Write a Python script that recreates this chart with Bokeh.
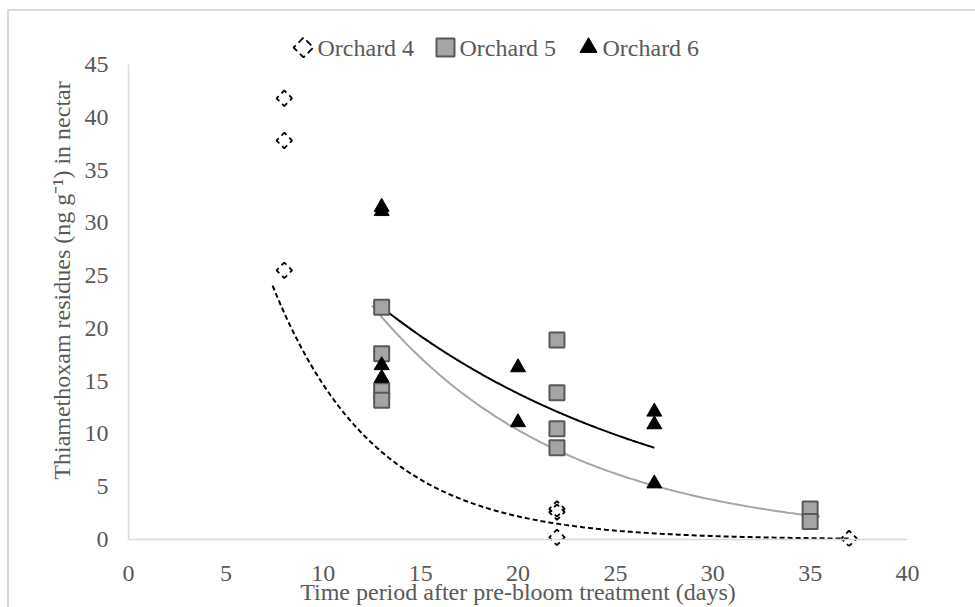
import numpy as np
from bokeh.plotting import figure
from bokeh.layouts import column
from bokeh.models import Range1d, FixedTicker, Span, InlineStyleSheet
from bokeh.core.properties import value
from bokeh.embed import file_html
from bokeh.resources import INLINE

try:
    from bokeh.models import GlobalInlineStyleSheet
except ImportError:
    GlobalInlineStyleSheet = None

# ---------------- data ----------------
o4_x = [8, 8, 8, 22, 22, 22, 37]
o4_y = [41.8, 37.8, 25.5, 2.9, 2.6, 0.2, 0.1]
o5_x = [13, 13, 13, 13, 22, 22, 22, 22, 35, 35]
o5_y = [22.0, 17.6, 14.1, 13.2, 18.9, 13.9, 10.5, 8.7, 2.9, 1.7]
o6_x = [13, 13, 13, 13, 20, 20, 27, 27, 27]
o6_y = [31.5, 31.1, 16.5, 15.3, 16.3, 11.1, 12.1, 10.9, 5.3]

series_names = ["Orchard 4", "Orchard 5", "Orchard 6"]
# exponential trend lines  y = a * exp(-b * x), coefficients
trend_a = [98.1, 78.8, 52.1]
trend_b = [0.19, 0.1014, 0.0663]
trend_x0 = [7.4, 12.5, 13.0]
trend_x1 = [37.0, 35.5, 27.0]

x_ticks = [0, 5, 10, 15, 20, 25, 30, 35, 40]
y_ticks = [0, 5, 10, 15, 20, 25, 30, 35, 40, 45]
x_title = "Time period after pre-bloom treatment (days)"
y_title = "Thiamethoxam residues (ng g\u207b\u00b9) in nectar"

# ---------------- layout (pixels) ----------------
W, H = 975, 607
L, R, T, B = 128, 907, 14, 546           # plot frame (extended up to hold the legend)
ZERO_PX, TOP45_PX = 539, 64              # where y=0 and y=45 fall
unit = (ZERO_PX - TOP45_PX) / 45.0
Y0 = -(B - ZERO_PX) / unit
Y1 = 45 + (TOP45_PX - T) / unit
xunit = (R - L) / 40.0

def dx(px):
    return (px - L) / xunit

def dy(py):
    return Y0 + (B - py) / unit

FONT = "Liberation Serif"
FS = "24px"
TXT = "#595959"
GRID = "#d9d9d9"

fig = figure(width=W, height=H, x_range=Range1d(0, 40), y_range=Range1d(Y0, Y1),
             min_border_left=L, min_border_right=W - R, min_border_top=T,
             min_border_bottom=H - B, toolbar_location=None, output_backend="svg",
             background_fill_color=None, border_fill_color=None)
fig.outline_line_color = None
fig.xgrid.visible = False
fig.ygrid.visible = False

for ax in (fig.xaxis[0], fig.yaxis[0]):
    ax.major_tick_line_color = None
    ax.minor_tick_line_color = None
    ax.major_tick_out = 0
    ax.major_tick_in = 0
    ax.minor_tick_out = 0
    ax.minor_tick_in = 0
    ax.major_label_text_font = FONT
    ax.major_label_text_font_size = FS
    ax.major_label_text_color = TXT
    ax.axis_label_text_font = FONT
    ax.axis_label_text_font_size = FS
    ax.axis_label_text_color = TXT
    ax.axis_label_text_font_style = "normal"

fig.xaxis.ticker = FixedTicker(ticks=x_ticks)
fig.yaxis.ticker = FixedTicker(ticks=y_ticks)
fig.xaxis.axis_line_color = None
fig.xaxis.major_label_standoff = 19
fig.xaxis.axis_label = x_title
fig.xaxis.axis_label_standoff = -5
fig.yaxis.bounds = (0, 45)
fig.yaxis.axis_line_color = GRID
fig.yaxis.axis_line_width = 1.5
fig.yaxis.major_label_standoff = 20
fig.yaxis.axis_label = y_title
fig.yaxis.axis_label_standoff = 7

fig.add_layout(Span(location=0, dimension="width", line_color=GRID, line_width=1.5))

# ---------------- trend lines ----------------
styles = [dict(line_color="black", line_width=2, line_dash="5 3"),
          dict(line_color="#a5a5a5", line_width=2),
          dict(line_color="black", line_width=2)]
for a, b, x0, x1, st in zip(trend_a, trend_b, trend_x0, trend_x1, styles):
    xs = np.linspace(x0, x1, 200)
    fig.line(xs, a * np.exp(-b * xs), **st)

# ---------------- markers ----------------
o4_style = dict(marker="square", angle=np.pi / 4, fill_color=None, line_color="black",
                line_width=1.8, line_dash="7 4", line_dash_offset=4)
o5_style = dict(marker="square", fill_color="#a5a5a5", line_color="#595959", line_width=2)
o6_style = dict(marker="triangle", fill_color="black", line_color="black", line_width=1)

fig.scatter(o4_x, o4_y, size=11, **o4_style)
fig.scatter(o5_x, o5_y, size=15, **o5_style)
fig.scatter(o6_x, o6_y, size=15, **o6_style)

# ---------------- legend (top centre, keys + labels) ----------------
LY = 47
leg_glyph_x = [303, 445, 588]
leg_text_x = [317, 459, 602]
fig.scatter([dx(leg_glyph_x[0])], [dy(LY)], size=14, **o4_style)
fig.scatter([dx(leg_glyph_x[1])], [dy(LY)], size=18, **o5_style)
fig.scatter([dx(leg_glyph_x[2])], [dy(LY)], size=17, **o6_style)
fig.text(x=[dx(t) for t in leg_text_x], y=[dy(LY)] * 3, text=series_names,
         text_baseline="middle", text_align="left", text_font=value(FONT),
         text_font_size=value(FS), text_color=TXT)

# page wrapper carrying the light-grey chart-area border (left & top edges)
grad = f"linear-gradient({GRID}, {GRID})"
sheets = [InlineStyleSheet(css=(
    ":host { background-color: white; overflow: hidden; "
    f"background-image: {grad}, {grad}; "
    "background-repeat: no-repeat, no-repeat; "
    "background-position: 7px 9px, 7px 9px; "
    "background-size: 2px 100%, 100% 2px; }"))]
if GlobalInlineStyleSheet is not None:
    sheets.append(GlobalInlineStyleSheet(css="html, body { overflow: hidden; margin: 0; }"))
p = column(fig, stylesheets=sheets)

open("out.html", "w").write(file_html(p, INLINE))
